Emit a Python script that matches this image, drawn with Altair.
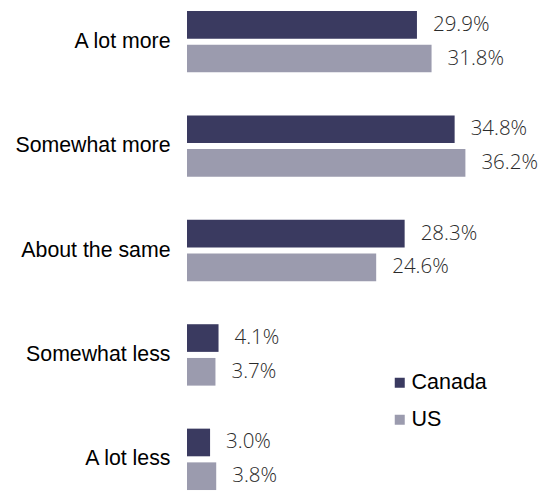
import altair as alt
import pandas as pd

categories = ["A lot more", "Somewhat more", "About the same", "Somewhat less", "A lot less"]
canada = [29.9, 34.8, 28.3, 4.1, 3.0]
us = [31.8, 36.2, 24.6, 3.7, 3.8]
series = ["Canada", "US"]
colors = ["#3a3a60", "#9b9bae"]

rows = []
for c, a, b in zip(categories, canada, us):
    rows.append({"category": c, "series": "Canada", "value": a})
    rows.append({"category": c, "series": "US", "value": b})
df = pd.DataFrame(rows)

y = alt.Y("category:N", sort=categories, title=None,
          scale=alt.Scale(range=[0, 501], paddingInner=0.412, paddingOuter=0.105),
          axis=alt.Axis(domain=False, ticks=False, labelFont="Liberation Sans",
                        labelFontSize=21.3, labelColor="#000000", labelPadding=17))
yoff = alt.YOffset("series:N", sort=series, scale=alt.Scale(paddingInner=0.18))
x = alt.X("value:Q", scale=alt.Scale(domain=[0, 45.9]), axis=None)

base = alt.Chart(df).encode(y=y, yOffset=yoff, x=x)

bars = base.mark_bar(clip=True).encode(
    color=alt.Color("series:N", sort=series,
                    scale=alt.Scale(domain=series, range=colors),
                    legend=alt.Legend(title=None, orient="none", legendX=202, legendY=372,
                                      symbolType="square", symbolSize=100, symbolStrokeWidth=0,
                                      labelFont="Liberation Sans", labelFontSize=21.5,
                                      labelColor="#000000", labelOffset=1, rowPadding=14))
)

labels = base.transform_calculate(
    label="format(datum.value, '.1f') + '%'"
).mark_text(align="left", baseline="middle", dx=16, font="Open Sans",
            fontSize=20.5, fontWeight=300, color="#2a2a2a").encode(text="label:N")

chart = (bars + labels).properties(
    width=353, height=491,
    autosize=alt.AutoSizeParams(type="none"),
    padding={"left": 187, "top": 0, "right": 0, "bottom": 0},
).configure_view(stroke=None)

chart.save("out.html", embed_options={"renderer": "svg", "actions": False})
